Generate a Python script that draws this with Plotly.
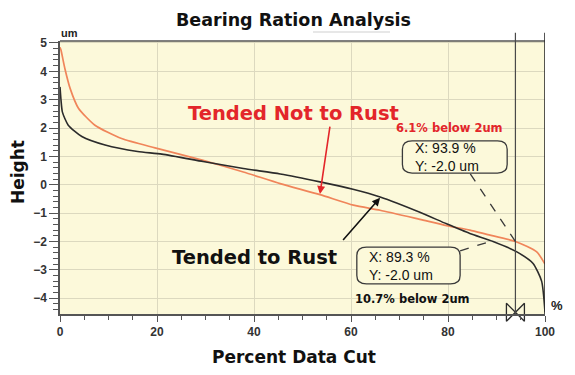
import plotly.graph_objects as go

# ---- data ----
rust_x = [0, 0.2, 0.5, 1.7, 4.5, 9.3, 16, 21, 29.5, 37.8, 45.4, 53.6, 60.4, 66, 74.2, 79.7, 84.5, 89.3, 94.2, 97.5, 99.3, 100]
rust_y = [3.45, 3.0, 2.56, 2.1, 1.7, 1.4, 1.17, 1.08, 0.82, 0.57, 0.38, 0.1, -0.16, -0.43, -0.97, -1.38, -1.72, -2.0, -2.37, -2.77, -3.4, -4.5]

norust_x = [0, 0.2, 1, 2.1, 3.8, 7.2, 12.7, 19.6, 29.5, 37.8, 45.4, 53.6, 60.5, 66, 74.2, 79.7, 84.5, 88, 93.9, 98.3, 100]
norust_y = [4.85, 4.75, 4.1, 3.39, 2.7, 2.1, 1.63, 1.3, 0.86, 0.45, 0.04, -0.35, -0.72, -0.9, -1.22, -1.44, -1.6, -1.75, -2.0, -2.37, -2.8]

cursor_norust_x = 93.9
cursor_rust_x = 89.3
cursor_y = -2.0

x_ticks = [0, 20, 40, 60, 80, 100]
y_ticks = [-4, -3, -2, -1, 0, 1, 2, 3, 4, 5]

title_text = "Bearing Ration Analysis"
xlabel = "Percent Data Cut"
ylabel = "Height"

# ---- styles ----
BLACK = "#2b2b2b"
ORANGE = "#f0855a"
RED = "#e3262a"
BG = "#fcf9da"
GRID = "#dcd9bf"
AX = "#555555"
BOLD = "DejaVu Sans"
REG = "Liberation Sans, Arial, sans-serif"

XR = [0, 100]
YR = [-4.56, 5.07]

fig = go.Figure()

fig.add_trace(go.Scatter(x=norust_x, y=norust_y, mode="lines",
                         line=dict(color=ORANGE, width=1.7, shape="spline", smoothing=0.6),
                         hoverinfo="skip", showlegend=False))
fig.add_trace(go.Scatter(x=rust_x, y=rust_y, mode="lines",
                         line=dict(color=BLACK, width=1.6, shape="spline", smoothing=0.6),
                         hoverinfo="skip", showlegend=False))

# cursor markers (above and below the plot)
top_y = 5.44
bot_y = -4.5
fig.add_trace(go.Scatter(x=[cursor_norust_x], y=[top_y], mode="markers", cliponaxis=False,
                         marker=dict(symbol="triangle-down-open", size=15, color=BLACK, line=dict(width=1.5, color=BLACK)),
                         hoverinfo="skip", showlegend=False))
fig.add_trace(go.Scatter(x=[XR[1]], y=[top_y], mode="markers", cliponaxis=False,
                         marker=dict(symbol="triangle-down", size=15, color="black"),
                         hoverinfo="skip", showlegend=False))
fig.add_trace(go.Scatter(x=[cursor_norust_x], y=[bot_y], mode="markers", cliponaxis=False,
                         marker=dict(symbol="bowtie-open", size=18, color=BLACK, line=dict(width=1.3, color=BLACK)),
                         hoverinfo="skip", showlegend=False))

shapes = []
# top border of plot
shapes.append(dict(type="line", xref="x", yref="paper", x0=XR[0], x1=XR[1], y0=1, y1=1,
                   line=dict(color=AX, width=1.5)))
# cursor lines
shapes.append(dict(type="line", xref="x", yref="paper", x0=cursor_norust_x, x1=cursor_norust_x, y0=0, y1=1.03,
                   line=dict(color="#4a4a4a", width=1.2)))
shapes.append(dict(type="line", xref="x", yref="paper", x0=XR[1], x1=XR[1], y0=0, y1=1.03,
                   line=dict(color=BLACK, width=1.6)))
# faint underline under the title
shapes.append(dict(type="line", xref="paper", yref="paper", x0=(313 - 60) / 485, x1=(390 - 60) / 485,
                   y0=(314 - 32) / 273, y1=(314 - 32) / 273, line=dict(color="#cfcfcf", width=1)))


def rounded_box(x0, y0, x1, y1, rx, ry):
    p = (f"M {x0+rx},{y0} L {x1-rx},{y0} Q {x1},{y0} {x1},{y0+ry} "
         f"L {x1},{y1-ry} Q {x1},{y1} {x1-rx},{y1} L {x0+rx},{y1} "
         f"Q {x0},{y1} {x0},{y1-ry} L {x0},{y0+ry} Q {x0},{y0} {x0+rx},{y0} Z")
    return dict(type="path", xref="x", yref="y", path=p, fillcolor=BG,
                line=dict(color="#3a3a3a", width=1.3))

# dashed leader lines
shapes.append(dict(type="line", xref="x", yref="y", x0=84.6, y0=0.38, x1=cursor_norust_x, y1=cursor_y,
                   line=dict(color="#3a3a3a", width=1.3, dash="dash")))
shapes.append(dict(type="line", xref="x", yref="y", x0=82.5, y0=-2.33, x1=cursor_rust_x - 0.6, y1=cursor_y,
                   line=dict(color="#3a3a3a", width=1.3, dash="dash")))
shapes.append(rounded_box(70.6, 0.41, 92.2, 1.55, 2.0, 0.3))
shapes.append(rounded_box(61.2, -3.5, 82.5, -2.2, 2.0, 0.3))


def pa(text, px, py, font, **kw):
    return dict(text=text, xref="paper", yref="paper", x=(px - 60) / 485, y=(314 - py) / 273,
                xanchor="center", yanchor="middle", showarrow=False, font=font, **kw)


ann = []
ann.append(pa(f"<b>{title_text}</b>", 293, 20, dict(family=BOLD, size=17.5, color="#111")))
ann.append(pa("<b>um</b>", 69, 33, dict(family=REG, size=11, color="#222")))
ann.append(pa("<b>%</b>", 557, 305, dict(family=REG, size=13, color="#222")))
ann.append(pa(f"<b>{ylabel}</b>", 18, 172, dict(family=BOLD, size=17, color="#111"), textangle=-90))
ann.append(pa(f"<b>{xlabel}</b>", 294, 357, dict(family=BOLD, size=17, color="#111")))

def da(text, x, y, font, **kw):
    d = dict(text=text, x=x, y=y, showarrow=False, font=font, yanchor="middle")
    d.update(kw)
    return d

ann.append(da("<b>Tended Not to Rust</b>", 48.2, 2.52, dict(family=BOLD, size=19.5, color=RED), xanchor="center"))
ann.append(da("<b>6.1% below 2um</b>", 80.4, 1.99, dict(family=BOLD, size=11.5, color=RED), xanchor="center"))
ann.append(da("<b>Tended to Rust</b>", 40.0, -2.55, dict(family=BOLD, size=19.5, color="#111"), xanchor="center"))
ann.append(da("<b>10.7% below 2um</b>", 72.7, -4.03, dict(family=BOLD, size=11.5, color="#111"), xanchor="center"))

ann.append(da(f"X: {cursor_norust_x} %<br>Y: {cursor_y} um", 72.8, 0.98, dict(family=REG, size=14, color="#111"),
              xanchor="left", align="left"))
ann.append(da(f"X: {cursor_rust_x} %<br>Y: {cursor_y} um", 63.4, -2.85, dict(family=REG, size=14, color="#111"),
              xanchor="left", align="left"))

# arrows
ann.append(dict(text="", x=53.6, y=-0.33, ax=55.7, ay=2.1, xref="x", yref="y", axref="x", ayref="y",
                showarrow=True, arrowhead=2, arrowsize=1, arrowwidth=1.6, arrowcolor=RED))
ann.append(dict(text="", x=66.0, y=-0.46, ax=58.1, ay=-2.0, xref="x", yref="y", axref="x", ayref="y",
                showarrow=True, arrowhead=2, arrowsize=1, arrowwidth=1.6, arrowcolor="#111"))

fig.update_layout(
    width=575, height=375,
    margin=dict(l=60, r=30, t=41, b=61),
    paper_bgcolor="white", plot_bgcolor=BG,
    shapes=shapes, annotations=ann,
    showlegend=False,
)
fig.update_xaxes(range=XR, tickvals=x_ticks, showgrid=True, gridcolor=GRID, gridwidth=1,
                 showline=True, linecolor=AX, linewidth=1.5, ticks="outside", ticklen=6, tickcolor=AX,
                 tickfont=dict(family=REG, size=12, color="#333", weight="bold"), zeroline=False,
                 minor=dict(dtick=5, ticks="outside", ticklen=4, tickcolor=AX, showgrid=False))
fig.update_yaxes(range=YR, tickvals=y_ticks, showgrid=True, gridcolor=GRID, gridwidth=1,
                 showline=True, linecolor=AX, linewidth=1.5, ticks="outside", ticklen=9, tickcolor=AX,
                 tickfont=dict(family=REG, size=12, color="#333", weight="bold"), zeroline=False,
                 minor=dict(dtick=0.2, tick0=0, ticks="outside", ticklen=5, tickcolor=AX, showgrid=False))

fig.write_html("out.html")
